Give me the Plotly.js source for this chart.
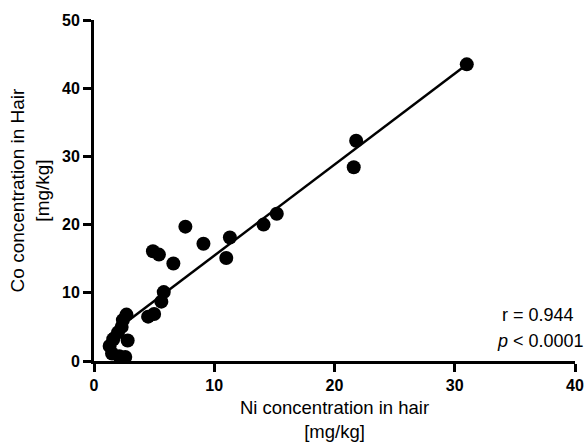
<!DOCTYPE html>
<html>
<head>
<meta charset="utf-8">
<script src="https://cdn.plot.ly/plotly-3.0.1.min.js"></script>
<style>html,body{margin:0;padding:0;background:#fff}#chart{width:587px;height:442px}</style>
</head>
<body>
<div id="chart"></div>
<script>
const niHair = [31.0, 21.8, 21.6, 15.2, 14.1, 11.3, 11.0, 9.1, 7.6, 6.6, 5.4, 4.9, 5.8, 5.6, 5.0, 4.5, 2.7, 2.4, 2.3, 2.0, 1.6, 2.8, 1.3, 1.5, 2.1, 2.6];
const coHair = [43.5, 32.3, 28.4, 21.6, 20.0, 18.1, 15.1, 17.2, 19.7, 14.3, 15.6, 16.1, 10.1, 8.7, 6.9, 6.5, 6.8, 6.0, 5.0, 4.2, 3.2, 3.0, 2.2, 1.1, 0.7, 0.6];
const fitSlope = 1.335;
const fitIntercept = 2.1;
const fitX = [Math.min(...niHair), Math.max(...niHair)];
const fitY = fitX.map(v => fitSlope * v + fitIntercept);
const xTicks = [0, 10, 20, 30, 40];
const yTicks = [0, 10, 20, 30, 40, 50];
const statR = 'r = 0.944';
const statP = '<i>p</i> < 0.0001';

const font = 'Liberation Sans, Arial, sans-serif';
const traces = [
  {x: niHair, y: coHair, type: 'scatter', mode: 'markers', cliponaxis: false,
   marker: {color: '#000', size: 14}, hoverinfo: 'skip'},
  {x: fitX, y: fitY, type: 'scatter', mode: 'lines', cliponaxis: false,
   line: {color: '#000', width: 2.5}, hoverinfo: 'skip'}
];
const axisBase = {
  showgrid: false, zeroline: false, showline: true, linecolor: '#000', linewidth: 3,
  ticks: 'outside', ticklen: 8, tickwidth: 3, tickcolor: '#000',
  tickfont: {family: font, size: 16, color: '#000', weight: 'bold'}
};
const layout = {
  width: 587, height: 442,
  margin: {l: 94, r: 12, t: 20, b: 81},
  paper_bgcolor: '#fff', plot_bgcolor: '#fff',
  showlegend: false,
  font: {family: font, color: '#000'},
  xaxis: Object.assign({}, axisBase, {
    range: [0, 40], tickvals: xTicks, ticktext: xTicks.map(String),
    title: {text: 'Ni concentration in hair<br>[mg/kg]', font: {family: font, size: 18.5, color: '#000'}, standoff: 12}
  }),
  yaxis: Object.assign({}, axisBase, {
    range: [0, 50], tickvals: yTicks, ticktext: yTicks.map(String),
    title: {text: 'Co concentration in Hair<br>[mg/kg]', font: {family: font, size: 19, color: '#000'}, standoff: 8}
  }),
  annotations: [
    {text: statR, xref: 'paper', yref: 'paper', x: 1.002, y: 0.135, xanchor: 'right', yanchor: 'middle', showarrow: false, font: {family: font, size: 18, color: '#000'}},
    {text: statP, xref: 'paper', yref: 'paper', x: 1.022, y: 0.058, xanchor: 'right', yanchor: 'middle', showarrow: false, font: {family: font, size: 18, color: '#000'}}
  ]
};
Plotly.newPlot('chart', traces, layout, {displayModeBar: false, staticPlot: true});
</script>
</body>
</html>
